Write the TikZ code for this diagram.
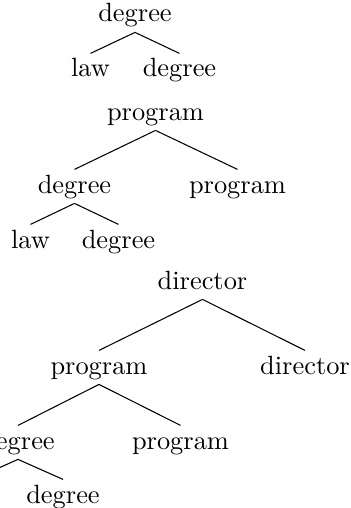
\documentclass[tikz,border=0pt]{standalone}
\begin{document}
\begin{tikzpicture}[x=0.3788pt,y=-0.3788pt,
  lbl/.style={inner sep=1.8pt, text height=6.94pt, text depth=1.94pt, anchor=base},
  edge/.style={line width=0.4pt}]
\useasboundingbox (0,0) rectangle (351,508);
\clip (0,0) rectangle (351,508);

% first tree
\node[lbl] (t1r) at (135,22) {degree};
\node[lbl] (t1a) at (90.5,77) {law};
\node[lbl] (t1b) at (179.5,77) {degree};
\draw[edge] (t1r.south) -- (t1a.north);
\draw[edge] (t1r.south) -- (t1b.north);

% second tree
\node[lbl] (t2r) at (155.5,120) {program};
\node[lbl] (t2a) at (74.5,193) {degree};
\node[lbl] (t2b) at (237.5,193) {program};
\node[lbl] (t2c) at (30.5,248) {law};
\node[lbl] (t2d) at (118.5,248) {degree};
\draw[edge] (t2r.south) -- (t2a.north);
\draw[edge] (t2r.south) -- (t2b.north);
\draw[edge] (t2a.south) -- (t2c.north);
\draw[edge] (t2a.south) -- (t2d.north);

% third tree
\node[lbl] (t3r) at (202.5,289) {director};
\node[lbl] (t3a) at (99,374) {program};
\node[lbl] (t3b) at (305,374) {director};
\node[lbl] (t3c) at (18,449) {degree};
\node[lbl] (t3d) at (180.5,449) {program};
\node[lbl] (t3e) at (-27,503) {law};
\node[lbl] (t3f) at (63,503) {degree};
\draw[edge] (t3r.south) -- (t3a.north);
\draw[edge] (t3r.south) -- (t3b.north);
\draw[edge] (t3a.south) -- (t3c.north);
\draw[edge] (t3a.south) -- (t3d.north);
\draw[edge] (t3c.south) -- (t3e.north);
\draw[edge] (t3c.south) -- (t3f.north);
\end{tikzpicture}
\end{document}
